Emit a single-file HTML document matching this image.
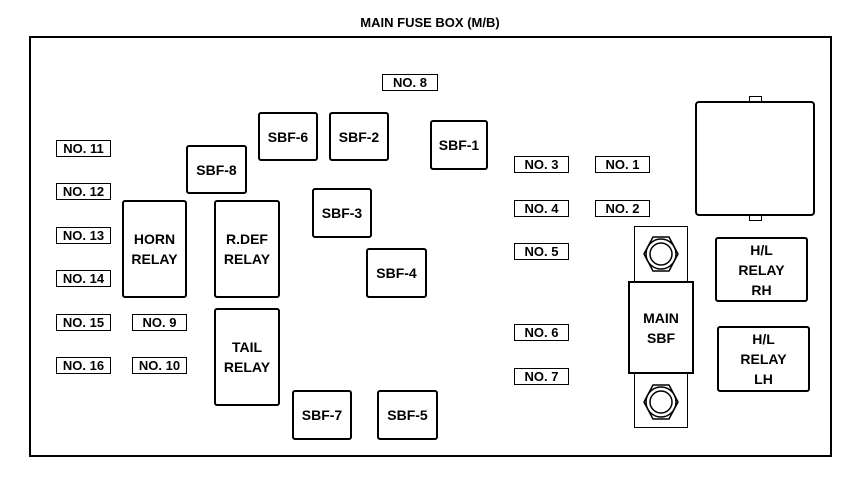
<!DOCTYPE html>
<html><head><style>
body{margin:0;background:#fff;width:864px;height:478px;position:relative;font-family:"Liberation Sans",Arial,sans-serif;font-weight:bold;color:#000;overflow:hidden}
.a{position:absolute;box-sizing:border-box;display:flex;align-items:center;justify-content:center;text-align:center}
.l{border:1.5px solid #000;font-size:13px;line-height:1}
.s{border:2px solid #000;border-radius:3px;font-size:14px}
.r{border:2px solid #000;border-radius:3px;font-size:14px;line-height:20px}
</style></head><body>
<div class="a" style="left:280px;top:12px;width:300px;height:20px;font-size:13px">MAIN FUSE BOX (M/B)</div>
<div class="a" style="left:29px;top:36px;width:803px;height:421px;border:2px solid #000"></div>

<div class="a l" style="left:382px;top:74px;width:56px;height:17px">NO. 8</div>
<div class="a l" style="left:56px;top:140px;width:55px;height:17px">NO. 11</div>
<div class="a l" style="left:56px;top:183px;width:55px;height:17px">NO. 12</div>
<div class="a l" style="left:56px;top:227px;width:55px;height:17px">NO. 13</div>
<div class="a l" style="left:56px;top:270px;width:55px;height:17px">NO. 14</div>
<div class="a l" style="left:56px;top:314px;width:55px;height:17px">NO. 15</div>
<div class="a l" style="left:56px;top:357px;width:55px;height:17px">NO. 16</div>
<div class="a l" style="left:132px;top:314px;width:55px;height:17px">NO. 9</div>
<div class="a l" style="left:132px;top:357px;width:55px;height:17px">NO. 10</div>
<div class="a l" style="left:514px;top:156px;width:55px;height:17px">NO. 3</div>
<div class="a l" style="left:595px;top:156px;width:55px;height:17px">NO. 1</div>
<div class="a l" style="left:514px;top:200px;width:55px;height:17px">NO. 4</div>
<div class="a l" style="left:595px;top:200px;width:55px;height:17px">NO. 2</div>
<div class="a l" style="left:514px;top:243px;width:55px;height:17px">NO. 5</div>
<div class="a l" style="left:514px;top:324px;width:55px;height:17px">NO. 6</div>
<div class="a l" style="left:514px;top:368px;width:55px;height:17px">NO. 7</div>

<div class="a s" style="left:258px;top:112px;width:60px;height:49px">SBF-6</div>
<div class="a s" style="left:329px;top:112px;width:60px;height:49px">SBF-2</div>
<div class="a s" style="left:430px;top:120px;width:58px;height:50px">SBF-1</div>
<div class="a s" style="left:186px;top:145px;width:61px;height:49px">SBF-8</div>
<div class="a s" style="left:312px;top:188px;width:60px;height:50px">SBF-3</div>
<div class="a s" style="left:366px;top:248px;width:61px;height:50px">SBF-4</div>
<div class="a s" style="left:292px;top:390px;width:60px;height:50px">SBF-7</div>
<div class="a s" style="left:377px;top:390px;width:61px;height:50px">SBF-5</div>

<div class="a r" style="left:122px;top:200px;width:65px;height:98px">HORN<br>RELAY</div>
<div class="a r" style="left:214px;top:200px;width:66px;height:98px">R.DEF<br>RELAY</div>
<div class="a r" style="left:214px;top:308px;width:66px;height:98px">TAIL<br>RELAY</div>

<div class="a" style="left:749px;top:96px;width:13px;height:7px;border:1.5px solid #000"></div>
<div class="a" style="left:749px;top:214px;width:13px;height:7px;border:1.5px solid #000"></div>
<div class="a" style="left:695px;top:101px;width:120px;height:115px;border:2px solid #000;border-radius:4px;background:#fff"></div>

<div class="a" style="left:634px;top:226px;width:54px;height:202px;border:1px solid #000"></div>
<svg class="a" style="left:641px;top:234px" width="40" height="40" viewBox="0 0 40 40"><polygon points="12,3 28,3 37,20 28,37 12,37 3,20" fill="none" stroke="#000" stroke-width="1.5"/><circle cx="20" cy="20" r="15" fill="none" stroke="#000" stroke-width="1.5"/><circle cx="20" cy="20" r="11" fill="none" stroke="#000" stroke-width="1.5"/></svg>
<svg class="a" style="left:641px;top:382px" width="40" height="40" viewBox="0 0 40 40"><polygon points="12,3 28,3 37,20 28,37 12,37 3,20" fill="none" stroke="#000" stroke-width="1.5"/><circle cx="20" cy="20" r="15" fill="none" stroke="#000" stroke-width="1.5"/><circle cx="20" cy="20" r="11" fill="none" stroke="#000" stroke-width="1.5"/></svg>
<div class="a r" style="left:628px;top:281px;width:66px;height:93px;background:#fff;border-radius:0">MAIN<br>SBF</div>

<div class="a r" style="left:715px;top:237px;width:93px;height:65px">H/L<br>RELAY<br>RH</div>
<div class="a r" style="left:717px;top:326px;width:93px;height:66px">H/L<br>RELAY<br>LH</div>
</body></html>
